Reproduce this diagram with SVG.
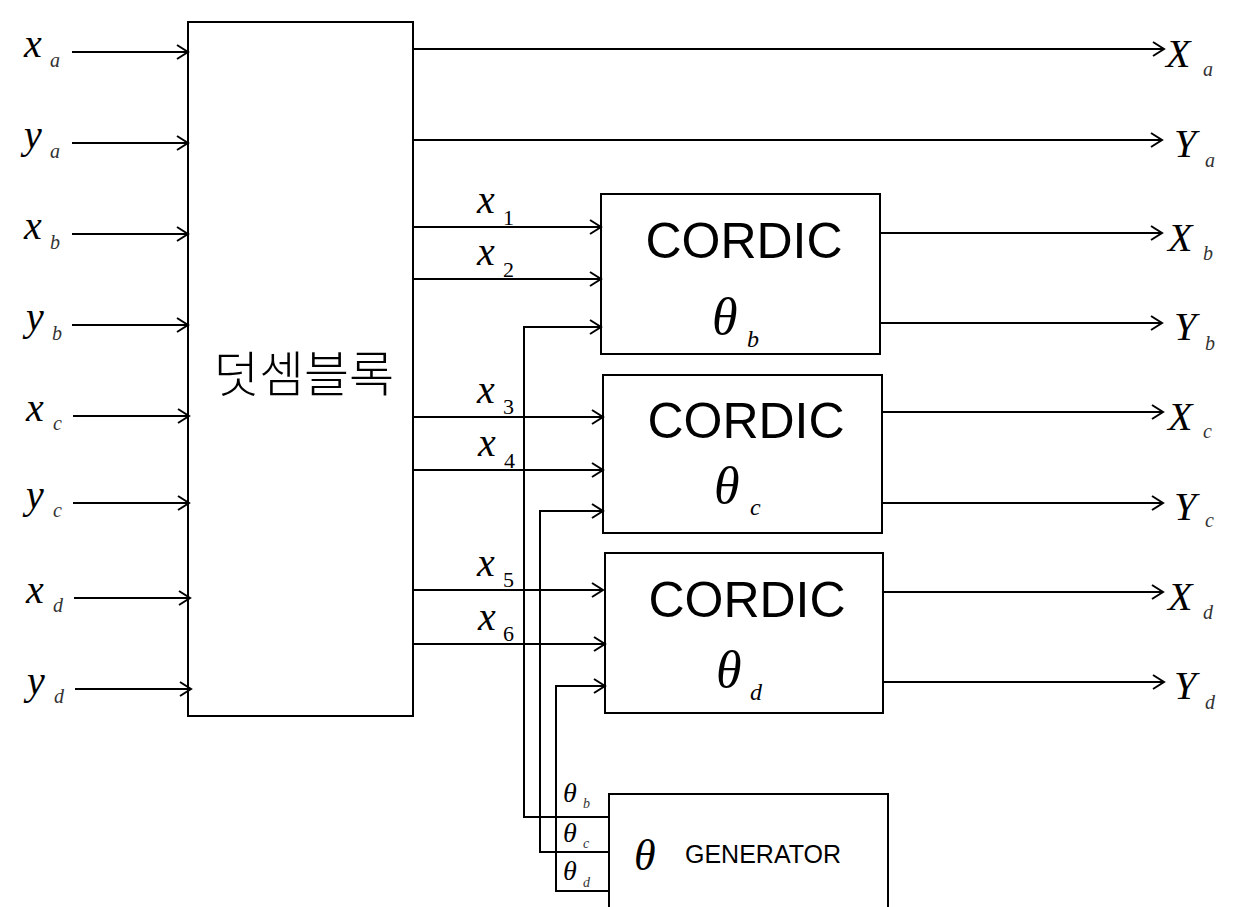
<svg xmlns="http://www.w3.org/2000/svg" width="1240" height="907" viewBox="0 0 1240 907">
<defs>
<marker id="arr" markerUnits="userSpaceOnUse" markerWidth="16" markerHeight="18" refX="13" refY="8" orient="auto">
<path d="M2,1 L13,8 L2,15" fill="none" stroke="#000" stroke-width="2"/>
</marker>
<style>
.box{fill:#fff;stroke:#000;stroke-width:2}
.ln{fill:none;stroke:#000;stroke-width:2}
.ar{fill:none;stroke:#000;stroke-width:2;marker-end:url(#arr)}
.v{font-family:"Liberation Serif",serif;font-style:italic;font-size:40px;fill:#000}
.s{font-family:"Liberation Serif",serif;font-style:italic;font-size:20px;fill:#333}
.n{font-family:"Liberation Serif",serif;font-size:22px;fill:#000}
.t{font-family:"Liberation Serif",serif;font-style:italic;font-size:52px;fill:#000}
.ts{font-family:"Liberation Serif",serif;font-style:italic;font-size:24px;fill:#000}
.g{font-family:"Liberation Sans",Arial,sans-serif;font-size:50px;fill:#000}
.k{font-family:"Noto Sans CJK KR",sans-serif;font-size:49px;font-weight:300;fill:#000}
</style>
</defs>
<g id="adder">
<rect class="box" x="188" y="22" width="225" height="694"/>
<text class="k" x="304" y="392" text-anchor="middle">덧셈블록</text>
</g>
<g id="cordic_b">
<rect class="box" x="601" y="194" width="279" height="160"/>
<text class="g" x="744" y="258" text-anchor="middle">CORDIC</text>
<text class="t" x="712" y="334">θ</text><text class="ts" x="747" y="347">b</text>
</g>
<g id="cordic_c">
<rect class="box" x="603" y="375" width="279" height="158"/>
<text class="g" x="746" y="438" text-anchor="middle">CORDIC</text>
<text class="t" x="714" y="503">θ</text><text class="ts" x="750" y="515">c</text>
</g>
<g id="cordic_d">
<rect class="box" x="605" y="553" width="278" height="160"/>
<text class="g" x="747" y="617" text-anchor="middle">CORDIC</text>
<text class="t" x="716" y="687">θ</text><text class="ts" x="750" y="700">d</text>
</g>
<g id="generator">
<rect class="box" x="609" y="794" width="279" height="130"/>
<text class="t" x="634" y="870" style="font-size:44px">θ</text>
<text class="g" x="685" y="863" style="font-size:25px">GENERATOR</text>
</g>
<g id="connectors">
<line class="ar" x1="72" y1="52" x2="188" y2="52"/>
<line class="ar" x1="72" y1="143" x2="188" y2="143"/>
<line class="ar" x1="72" y1="234" x2="188" y2="234"/>
<line class="ar" x1="72" y1="325" x2="188" y2="325"/>
<line class="ar" x1="73" y1="416" x2="189" y2="416"/>
<line class="ar" x1="73" y1="503" x2="189" y2="503"/>
<line class="ar" x1="74" y1="598" x2="190" y2="598"/>
<line class="ar" x1="75" y1="689" x2="191" y2="689"/>
<line class="ar" x1="413" y1="49" x2="1164" y2="49"/>
<line class="ar" x1="413" y1="140" x2="1162" y2="140"/>
<line class="ar" x1="413" y1="227" x2="601" y2="227"/>
<line class="ar" x1="413" y1="279" x2="601" y2="279"/>
<line class="ar" x1="414" y1="417" x2="603" y2="417"/>
<line class="ar" x1="414" y1="470" x2="603" y2="470"/>
<line class="ar" x1="414" y1="590" x2="603" y2="590"/>
<line class="ar" x1="414" y1="644" x2="605" y2="644"/>
<polyline class="ar" points="609,817 524,817 524,327 601,327"/>
<polyline class="ar" points="609,852 540,852 540,511 603,511"/>
<polyline class="ar" points="609,891 556,891 556,686 605,686"/>
<line class="ar" x1="880" y1="233" x2="1162" y2="233"/>
<line class="ar" x1="880" y1="323" x2="1162" y2="323"/>
<line class="ar" x1="882" y1="412" x2="1163" y2="412"/>
<line class="ar" x1="882" y1="503" x2="1163" y2="503"/>
<line class="ar" x1="883" y1="592" x2="1163" y2="592"/>
<line class="ar" x1="883" y1="682" x2="1164" y2="682"/>
</g>
<g id="labels">
<text class="v" x="24" y="57">x</text><text class="s" x="50" y="67">a</text>
<text class="v" x="24" y="148">y</text><text class="s" x="50" y="158">a</text>
<text class="v" x="24" y="239">x</text><text class="s" x="50" y="249">b</text>
<text class="v" x="26" y="330">y</text><text class="s" x="52" y="340">b</text>
<text class="v" x="26" y="421">x</text><text class="s" x="53" y="430">c</text>
<text class="v" x="26" y="508">y</text><text class="s" x="53" y="517">c</text>
<text class="v" x="26" y="603">x</text><text class="s" x="53" y="612">d</text>
<text class="v" x="27" y="694">y</text><text class="s" x="54" y="703">d</text>
<text class="v" x="477" y="213">x</text><text class="n" x="503" y="225">1</text>
<text class="v" x="477" y="265">x</text><text class="n" x="503" y="277">2</text>
<text class="v" x="477" y="403">x</text><text class="n" x="503" y="414">3</text>
<text class="v" x="478" y="456">x</text><text class="n" x="504" y="468">4</text>
<text class="v" x="477" y="576">x</text><text class="n" x="503" y="587">5</text>
<text class="v" x="478" y="630">x</text><text class="n" x="503" y="641">6</text>
<text class="v" x="563" y="802" style="font-size:28px">θ</text><text class="s" x="583" y="808" style="font-size:14px">b</text>
<text class="v" x="563" y="842" style="font-size:28px">θ</text><text class="s" x="583" y="848" style="font-size:14px">c</text>
<text class="v" x="563" y="880" style="font-size:28px">θ</text><text class="s" x="583" y="887" style="font-size:14px">d</text>
<text class="v" x="1166" y="67">X</text><text class="s" x="1203" y="76">a</text>
<text class="v" x="1174" y="157">Y</text><text class="s" x="1205" y="167">a</text>
<text class="v" x="1168" y="251">X</text><text class="s" x="1203" y="260">b</text>
<text class="v" x="1174" y="340">Y</text><text class="s" x="1205" y="350">b</text>
<text class="v" x="1168" y="430">X</text><text class="s" x="1203" y="438">c</text>
<text class="v" x="1174" y="520">Y</text><text class="s" x="1205" y="527">c</text>
<text class="v" x="1168" y="610">X</text><text class="s" x="1203" y="619">d</text>
<text class="v" x="1174" y="699">Y</text><text class="s" x="1205" y="709">d</text>
</g>
</svg>
